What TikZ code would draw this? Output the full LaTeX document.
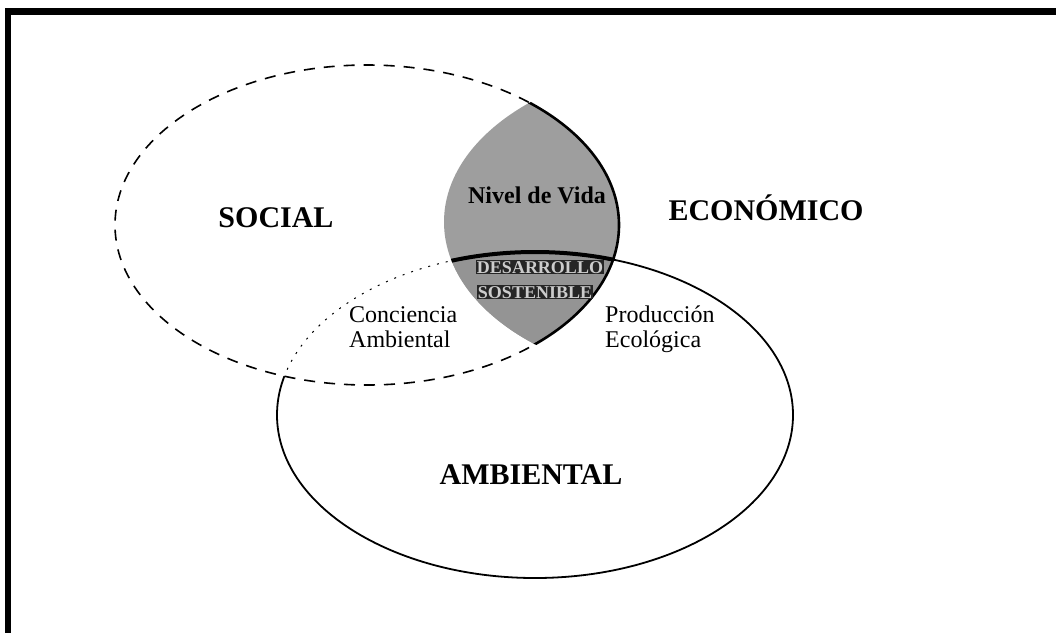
\documentclass[tikz,border=0pt]{standalone}
\usepackage{fontspec}
\setmainfont{Liberation Serif}
\begin{document}
\begin{tikzpicture}[x=1pt,y=-1pt,
    biglabel/.style={font=\fontsize{30}{32}\selectfont\bfseries,inner sep=0pt,anchor=base},
    smalllabel/.style={font=\fontsize{24}{25}\selectfont,inner sep=0pt,align=left,anchor=north west},
    bandlabel/.style={font=\fontsize{18}{19}\selectfont\bfseries,fill=black!85,text=white!80!black,inner sep=1pt,anchor=base}]
    \useasboundingbox (0,0) rectangle (1056,633);
    \fill[white] (0,0) rectangle (1056,633);
    \draw[line width=7pt] (5,11.5) -- (1056,11.5);
    \draw[line width=6pt] (8,8) -- (8,633);
    \begin{scope}
        \clip (367,225) ellipse [x radius=252pt, y radius=160pt];
        \fill[black!38] (700,222) ellipse [x radius=256pt, y radius=160pt];
        \clip (700,222) ellipse [x radius=256pt, y radius=160pt];
        \fill[black!42] (535,415) ellipse [x radius=258pt, y radius=163pt];
        \draw[line width=4pt] (535,415) ellipse [x radius=258pt, y radius=163pt];
    \end{scope}
    \begin{scope}[even odd rule]
        \clip (-10,-10) rectangle (1070,650) (700,222) ellipse [x radius=256pt, y radius=160pt];
        \draw[line width=1.6pt,dash pattern=on 11pt off 9pt] (367,225) ellipse [x radius=252pt, y radius=160pt];
    \end{scope}
    \begin{scope}
        \clip (700,222) ellipse [x radius=256pt, y radius=160pt];
        \draw[line width=2.6pt] (367,225) ellipse [x radius=252pt, y radius=160pt];
    \end{scope}
    \begin{scope}[even odd rule]
        \clip (-10,-10) rectangle (1070,650) (367,225) ellipse [x radius=252pt, y radius=160pt];
        \draw[line width=1.8pt] (535,415) ellipse [x radius=258pt, y radius=163pt];
    \end{scope}
    \begin{scope}
        \clip (367,225) ellipse [x radius=252pt, y radius=160pt];
        \begin{scope}[even odd rule]
            \clip (-10,-10) rectangle (1070,650) (700,222) ellipse [x radius=256pt, y radius=160pt];
            \draw[line width=1pt,dash pattern=on 2pt off 7pt] (535,415) ellipse [x radius=258pt, y radius=163pt];
        \end{scope}
    \end{scope}
    \node[biglabel] (social) at (276,227) {SOCIAL};
    \node[biglabel] (economico) at (766,220) {ECONÓMICO};
    \node[biglabel] (ambiental) at (531,484) {AMBIENTAL};
    \node[biglabel,font=\fontsize{24}{25}\selectfont\bfseries] (vida) at (537,203) {Nivel de Vida};
    \node[bandlabel] (desarrollo) at (540,273) {DESARROLLO};
    \node[bandlabel] (sostenible) at (535,298) {SOSTENIBLE};
    \node[smalllabel] (conciencia) at (349,306) {Conciencia\\Ambiental};
    \node[smalllabel] (produccion) at (605,306) {Producción\\Ecológica};
\end{tikzpicture}
\end{document}
